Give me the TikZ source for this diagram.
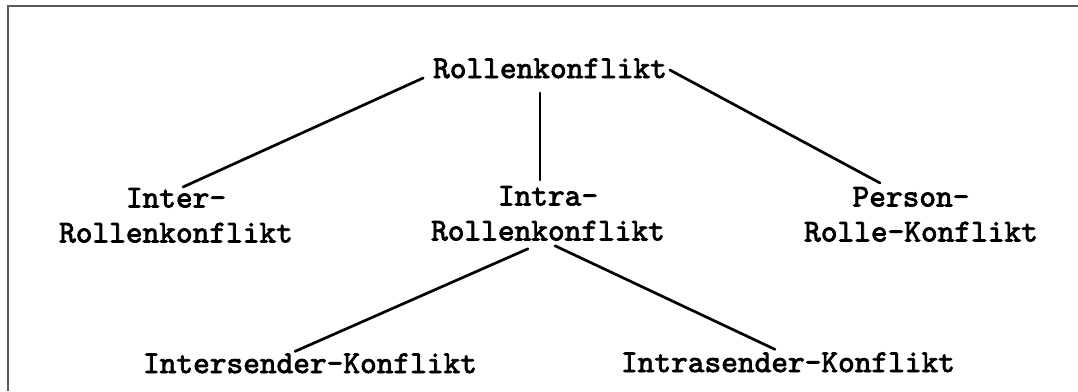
\documentclass[tikz,border=0pt]{standalone}
\usepackage{fontspec}
\usetikzlibrary{calc}
\newfontfamily\typewriter[FakeBold=2.5]{lmmono10-regular.otf}
\definecolor{framegray}{HTML}{5A5A5A}
\tikzset{
  lbl/.style={inner sep=0pt, outer sep=0pt, align=center,
    font=\typewriter\fontsize{31.8}{35}\selectfont},
  edge/.style={line width=2.7pt, line cap=round}
}
\begin{document}
\begin{tikzpicture}[x=1pt, y=-1pt]
  \useasboundingbox (0,0) rectangle (1078,391);
  % frame: top rule and left rule
  \draw[framegray, line width=2.8pt] (8,6) -- (1078,6);
  \draw[framegray, line width=2.8pt] (8,5) -- (8,391);

  % labels
  \node[lbl, anchor=base]  (root)   at (550,78)  {Rollenkonflikt};
  \node[lbl, anchor=north] (inter)  at (176,188) {Inter-\\Rollenkonflikt};
  \node[lbl, anchor=north] (intra)  at (548,186) {Intra-\\Rollenkonflikt};
  \node[lbl, anchor=north] (person) at (921,187) {Person-\hspace*{20pt}\\Rolle-Konflikt};
  \node[lbl, anchor=base]  (isend)  at (310,373) {Intersender-Konflikt};
  \node[lbl, anchor=base]  (tsend)  at (788,372) {Intrasender-Konflikt};

  % connectors
  \draw[edge] ($(root.base west)+(-10,0)$) -- ($(inter.north)+(7,-1)$);
  \draw[edge] ($(root.base)+(-10,15)$) -- ($(intra.north)+(-8,-6)$);
  \draw[edge] ($(root.base east)+(3,-8)$) -- ($(person.north)+(-41,-4)$);
  \draw[edge] ($(intra.south)+(-20,8)$) -- ($(isend.north)+(-15,-2)$);
  \draw[edge] ($(intra.south)+(7,5)$) -- ($(tsend.north)+(-13,-3)$);
\end{tikzpicture}
\end{document}
